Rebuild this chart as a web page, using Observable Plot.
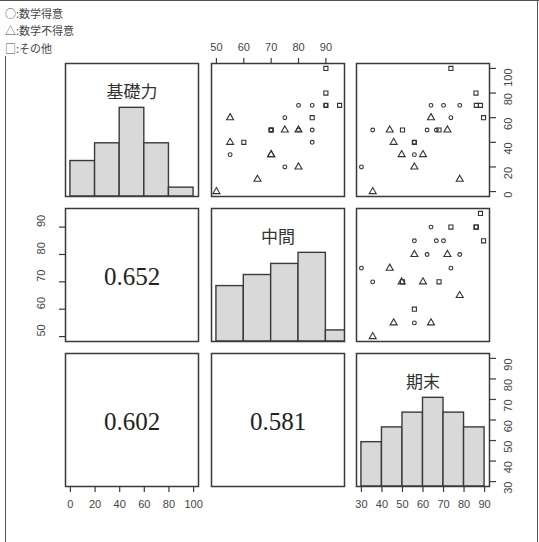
<!DOCTYPE html>
<html><head><meta charset="utf-8">
<script src="https://cdn.jsdelivr.net/npm/d3@7"></script>
<script src="https://cdn.jsdelivr.net/npm/@observablehq/plot@0.6"></script>
<style>
body{margin:0;background:#fff;}
#page{position:relative;width:539px;height:542px;overflow:hidden;background:#fff;}
.panel{position:absolute;}
.legend{position:absolute;left:5px;font-family:"Noto Sans CJK JP",sans-serif;font-size:11px;line-height:11px;color:#444;white-space:nowrap;}
.line{position:absolute;background:#555;}
</style></head><body><div id="page"></div>
<script>
// ---- data ----
const varNames = ["基礎力", "中間", "期末"];
const groupNames = ["数学得意", "数学不得意", "その他"];
const groupMarks = ["○", "△", "□"];
const groupSymbols = ["circle", "triangle", "square"];

// one entry per student: 0 = 数学得意, 1 = 数学不得意, 2 = その他
const kiso    = [100, 80, 70, 70, 70, 70, 60, 60, 60, 50, 50, 50, 50, 40, 40, 40, 30, 30, 20, 20, 10, 0, 50, 50, 50, 30, 70];
const chukan  = [ 90, 90, 80, 85, 90, 95, 55, 75, 85, 70, 75, 80, 85, 55, 60, 85, 55, 70, 75, 80, 65, 50, 70, 80, 70, 70, 90];
const kimatsu = [73.6, 85.8, 77.9, 70, 63.9, 88, 63.9, 73.6, 89.5, 67.8, 43.8, 71.9, 66.5, 45.7, 55.8, 55.8, 55.8, 60, 30, 55.8, 77.9, 35.5, 35.5, 62, 50, 49.6, 86];
const group   = [2, 2, 0, 0, 0, 2, 1, 0, 2, 2, 1, 1, 0, 1, 2, 0, 0, 1, 0, 1, 1, 1, 0, 0, 2, 1, 2];

// histogram breaks and counts
const kisoBreaks = [0, 20, 40, 60, 80, 100];
const kisoCounts = [4, 6, 10, 6, 1];
const chukanBreaks = [50, 60, 70, 80, 90, 100];
const chukanCounts = [5, 6, 7, 8, 1];
const kimatsuBreaks = [30, 40, 50, 60, 70, 80, 90];
const kimatsuCounts = [3, 4, 5, 6, 5, 4];

// correlation labels (lower panels)
const corr21 = "0.652";
const corr31 = "0.602";
const corr32 = "0.581";

// axis ranges and ticks
const kisoRange = [0, 100], chukanRange = [50, 95], kimatsuRange = [30, 90];
const kisoTicks = [0, 20, 40, 60, 80, 100];
const chukanTicks = [50, 60, 70, 80, 90];
const kimatsuTicks = [30, 40, 50, 60, 70, 80, 90];

// ---- layout ----
const page = document.getElementById("page");
const colX = [65, 210.5, 356];
const rowY = [62.5, 207.5, 352.5];
const S = 133, M = 40;
const ext = ([a, b]) => [a - 0.04 * (b - a), b + 0.04 * (b - a)];
const dom = [ext(kisoRange), ext(chukanRange), ext(kimatsuRange)];
const vals = [kiso, chukan, kimatsu];
const ticks = [kisoTicks, chukanTicks, kimatsuTicks];
const INK = "#3a3a3a", TXT = "#454545";
const tickFont = "Liberation Sans, Arial, sans-serif";

function panel(r, c, xDom, yDom, marks) {
  const div = document.createElement("div");
  div.className = "panel";
  div.style.left = (colX[c] - M) + "px";
  div.style.top = (rowY[r] - M) + "px";
  const svg = Plot.plot({
    width: S + 2 * M, height: S + 2 * M, margin: M,
    x: {domain: xDom, axis: null},
    y: {domain: yDom, axis: null},
    style: {background: "transparent", overflow: "visible", fontFamily: tickFont},
    marks
  });
  div.appendChild(svg);
  page.appendChild(div);
}

const frame = () => Plot.frame({stroke: INK, strokeWidth: 1.5});
const xAxisBottom = (t) => Plot.axisX(t, {anchor: "bottom", tickSize: 6, tickPadding: 8, stroke: INK, strokeWidth: 1.2, fill: TXT, fontSize: 11, label: null, fontFamily: tickFont});
const xAxisTop = (t) => Plot.axisX(t, {anchor: "top", tickSize: 6, tickPadding: 7, stroke: INK, strokeWidth: 1.2, fill: TXT, fontSize: 11, label: null, fontFamily: tickFont});
const yAxisSide = (t, side) => [
  Plot.axisY(t, {anchor: side, tickSize: 6, stroke: INK, strokeWidth: 1.2, tickFormat: () => "", label: null}),
  Plot.text(t, {y: d => d, text: d => String(d), frameAnchor: side, dx: side === "right" ? 18.5 : -24, rotate: -90, fill: TXT, fontSize: 11, fontFamily: tickFont})
];

function histMarks(breaks, counts, name) {
  const mx = d3.max(counts);
  const bins = counts.map((n, i) => ({x1: breaks[i], x2: breaks[i + 1], y1: 0, y2: n / mx}));
  return [
    Plot.rect(bins, {x1: "x1", x2: "x2", y1: "y1", y2: "y2", fill: "#d9d9d9", stroke: INK, strokeWidth: 1.4, clip: true}),
    Plot.text([name], {text: d => d, frameAnchor: "top", dy: 22, fontSize: 17, fontFamily: "Noto Sans CJK JP", fill: "#333"})
  ];
}

function scatterMarks(xv, yv) {
  const idx = d3.range(group.length);
  return groupSymbols.map((sym, g) => Plot.dot(idx.filter(i => group[i] === g), {
    x: i => xv[i], y: i => yv[i], symbol: sym,
    r: g === 0 ? 1.9 : g === 1 ? 2.6 : 2.3,
    fill: "none", stroke: "#333", strokeWidth: 1.1
  }));
}

const corrText = (t) => Plot.text([t], {text: d => d, frameAnchor: "middle", dy: 2, fontSize: 25, fontFamily: "Liberation Serif, Times New Roman, serif", fill: "#222"});

// Row 1
panel(0, 0, dom[0], [0, 1.5], [...histMarks(kisoBreaks, kisoCounts, varNames[0]), frame()]);
panel(0, 1, dom[1], dom[0], [...scatterMarks(chukan, kiso), frame(), xAxisTop(chukanTicks)]);
panel(0, 2, dom[2], dom[0], [...scatterMarks(kimatsu, kiso), frame(), ...yAxisSide(kisoTicks, "right")]);
// Row 2
panel(1, 0, dom[0], dom[1], [corrText(corr21), frame(), ...yAxisSide(chukanTicks, "left")]);
panel(1, 1, dom[1], [0, 1.5], [...histMarks(chukanBreaks, chukanCounts, varNames[1]), frame()]);
panel(1, 2, dom[2], dom[1], [...scatterMarks(kimatsu, chukan), frame()]);
// Row 3
panel(2, 0, dom[0], dom[2], [corrText(corr31), frame(), xAxisBottom(kisoTicks)]);
panel(2, 1, dom[1], dom[2], [corrText(corr32), frame()]);
panel(2, 2, dom[2], [0, 1.5], [...histMarks(kimatsuBreaks, kimatsuCounts, varNames[2]), frame(), xAxisBottom(kimatsuTicks)]);
panel(2, 2, dom[2], dom[2], [...yAxisSide(kimatsuTicks, "right")]);

// page frame lines
function line(x, y, w, h) {
  const d = document.createElement("div");
  d.className = "line";
  Object.assign(d.style, {left: x + "px", top: y + "px", width: w + "px", height: h + "px"});
  page.appendChild(d);
}
line(0, 0, 539, 1);
line(5, 56, 1, 486);
line(537, 0, 1, 542);

// legend
groupNames.forEach((g, i) => {
  const d = document.createElement("div");
  d.className = "legend";
  d.style.top = (7.5 + i * 17.5) + "px";
  d.textContent = groupMarks[i] + ":" + g;
  page.appendChild(d);
});
</script></body></html>
